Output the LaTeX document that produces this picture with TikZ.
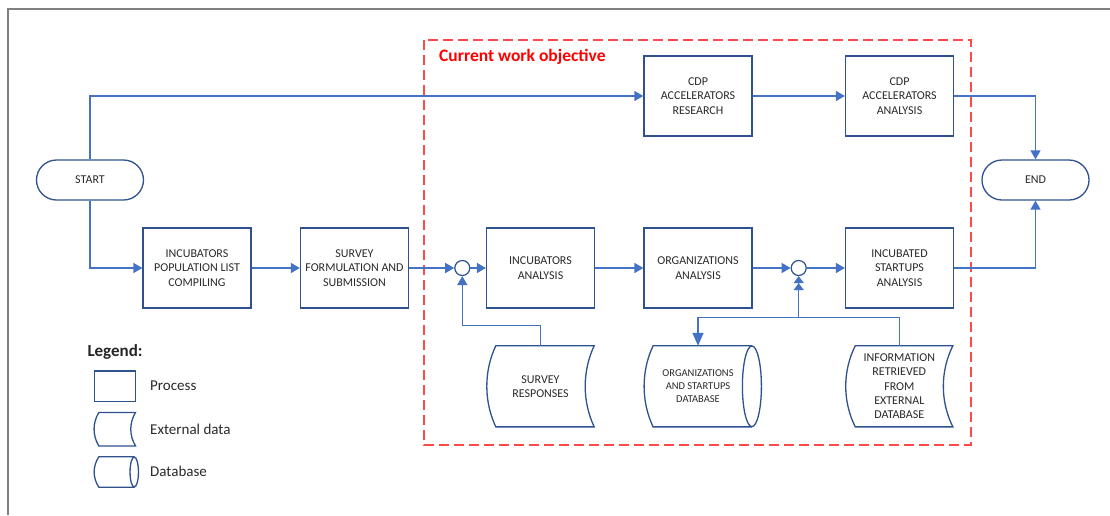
\documentclass[tikz,border=0pt]{standalone}
\usepackage{fontspec}
\setmainfont{Carlito}
\usetikzlibrary{arrows.meta,calc}
\definecolor{boxblue}{HTML}{2F528F}
\definecolor{arrblue}{HTML}{4472C4}
\definecolor{txtgray}{HTML}{2A2A2A}
\definecolor{dashred}{HTML}{FF4A4A}
\definecolor{framegray}{HTML}{808080}
\newcommand\mkext[4]{%
  \draw[shp] ([xshift=#2pt]#1.north west) -- (#1.north east)
    .. controls +(-#3,#4) and +(-#3,-#4) .. (#1.south east)
    -- ([xshift=#2pt]#1.south west)
    .. controls +(-#3,-#4) and +(-#3,#4) .. ([xshift=#2pt]#1.north west) -- cycle;}
\newcommand\mkdb[6]{%
  \draw[shp] (#1.north east) -- ([xshift=#2pt]#1.north west)
    .. controls +(-#3,#4) and +(-#3,-#4) .. ([xshift=#2pt]#1.south west)
    -- (#1.south east);
  \draw[shp] (#1.east) ellipse[x radius=#5pt, y radius=#6pt];}
\begin{document}
\begin{tikzpicture}[x=1pt,y=-1pt,
  proc/.style={draw=boxblue, line width=1.3pt, minimum width=108pt, minimum height=80pt,
    inner sep=0pt, align=center, text=txtgray, font=\fontsize{12}{14.4}\selectfont},
  term/.style={draw=boxblue, line width=1.3pt, rounded corners=20pt, minimum width=107pt,
    minimum height=40pt, inner sep=0pt, text=txtgray, font=\fontsize{12}{14.4}\selectfont},
  datab/.style={inner sep=0pt, align=center, text=txtgray, font=\fontsize{12}{14.3}\selectfont},
  junc/.style={circle, draw=boxblue, line width=1.2pt, fill=white, minimum size=15pt, inner sep=0pt},
  shp/.style={draw=boxblue, line width=1.3pt},
  conn/.style={draw=arrblue, line width=1.5pt, -{Triangle[length=9pt,width=10pt]}},
  conndbl/.style={draw=arrblue, line width=1.5pt, -{Triangle[length=7pt,width=10pt]Triangle[length=7pt,width=10pt]}},
  connbig/.style={draw=arrblue, line width=1.5pt, -{Triangle[length=13pt,width=11pt]}},
  legtxt/.style={anchor=base west, inner sep=0pt, text=txtgray, font=\fontsize{15}{18}\selectfont}
]
\useasboundingbox (0,0) rectangle (1110,515);
\fill[white] (0,0) rectangle (1110,515);
% outer frame
\draw[framegray, line width=2pt] (8.3,515) -- (8.3,9) -- (1110,9);
% current work objective region
\draw[dashred, line width=1.3pt, dash pattern=on 10pt off 5pt] (424,40) rectangle (971,445);
\node[anchor=base west, inner sep=0pt, text=red, font=\bfseries\fontsize{17.5}{20}\selectfont] (title) at (439,61.7) {Current work objective};

% terminals
\node[term] (start) at (90,180) {START};
\node[term] (end) at (1035.5,180) {END};

% processes
\node[proc] (cdpr) at (698,96) {CDP\\ACCELERATORS\\RESEARCH};
\node[proc] (cdpa) at (899.5,96) {CDP\\ACCELERATORS\\ANALYSIS};
\node[proc] (ipl) at (197,268) {INCUBATORS\\POPULATION LIST\\COMPILING};
\node[proc] (sf) at (354.5,268) {SURVEY\\FORMULATION AND\\SUBMISSION};
\node[proc] (ia) at (540.5,268) {INCUBATORS\\ANALYSIS};
\node[proc] (oa) at (698,268) {ORGANIZATIONS\\ANALYSIS};
\node[proc] (isa) at (899.5,268) {INCUBATED\\STARTUPS\\ANALYSIS};

% junctions
\node[junc] (c1) at (462.3,268) {};
\node[junc] (c2) at (798.7,268) {};

% data shapes
\node[datab, minimum width=107pt, minimum height=80.7pt] (sr) at (540.5,386.3) {SURVEY\\RESPONSES};
\mkext{sr}{9}{12}{25.4}
\node[datab, minimum width=107.4pt, minimum height=80.7pt, font=\fontsize{10.5}{12.7}\selectfont] (odb) at (698,386.3) {ORGANIZATIONS\\AND STARTUPS\\DATABASE};
\mkdb{odb}{9}{12}{25.4}{9.5}{40.35}
\node[datab, minimum width=106.7pt, minimum height=80.7pt] (info) at (899.3,386.3) {INFORMATION\\RETRIEVED\\FROM\\EXTERNAL\\DATABASE};
\mkext{info}{9.5}{12.7}{25.4}

% connectors
\draw[conn] (start.north) |- (cdpr.west);
\draw[conn] (start.south) |- (ipl.west);
\draw[conn] (ipl.east) -- (sf.west);
\draw[conn] (sf.east) -- (c1.west);
\draw[conn] (c1.east) -- (ia.west);
\draw[conn] (ia.east) -- (oa.west);
\draw[conn] (oa.east) -- (c2.west);
\draw[conn] (c2.east) -- (isa.west);
\draw[conn] (isa.east) -| (end.south);
\draw[conn] (cdpr.east) -- (cdpa.west);
\draw[conn] (cdpa.east) -| (end.north);
\coordinate (b1) at (c1 |- 0,325.7);
\coordinate (b2) at (c2 |- 0,317.7);
\draw[conn] (sr.north) |- (b1) -- (c1.south);
\draw[conndbl] (info.north) |- (b2) -- (c2.south);
\draw[connbig] (b2) -| (odb.north);

% legend
\node[anchor=base west, inner sep=0pt, text=black!85, font=\bfseries\fontsize{17}{20}\selectfont] (leg) at (87.3,356.7) {Legend:};
\node[draw=boxblue, line width=1.3pt, minimum width=41pt, minimum height=30.3pt, inner sep=0pt] (lp) at (114.8,386.2) {};
\node[inner sep=0pt, minimum width=41pt, minimum height=33pt] (le) at (114.8,429.2) {};
\mkext{le}{4.7}{6.3}{10.4}
\node[inner sep=0pt, minimum width=39.7pt, minimum height=30pt] (ld) at (114.2,472) {};
\mkdb{ld}{4.7}{6.3}{9.5}{4.2}{15}
\node[legtxt] (lpt) at (150,390.7) {Process};
\node[legtxt] (let) at (150,434) {External data};
\node[legtxt] (ldt) at (150,476.7) {Database};
\end{tikzpicture}
\end{document}
